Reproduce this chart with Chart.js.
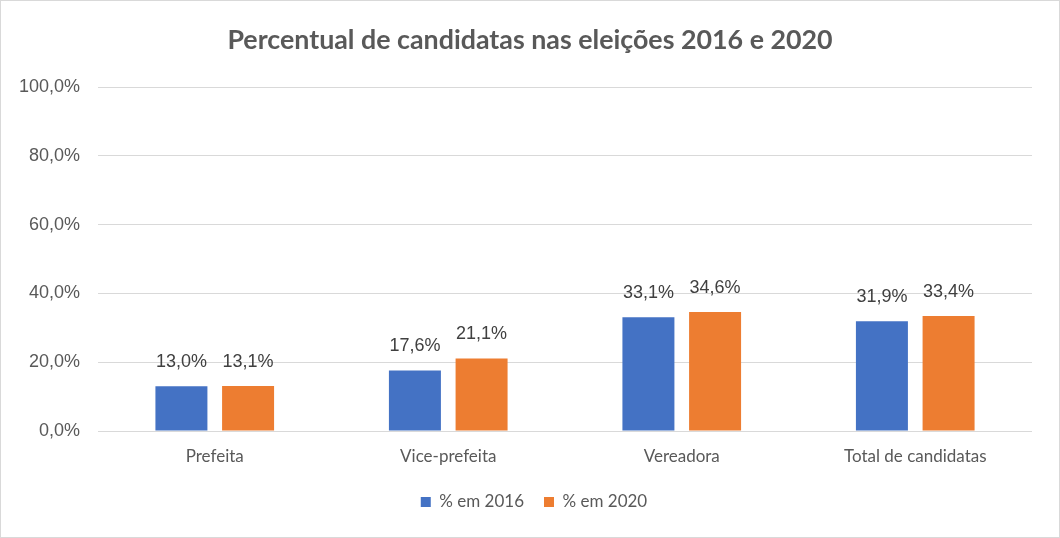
<!DOCTYPE html>
<html>
<head>
<meta charset="utf-8">
<script src="https://cdn.jsdelivr.net/npm/chart.js@4/dist/chart.umd.min.js"></script>
<style>
  html, body { margin: 0; padding: 0; background: #ffffff; }
  #wrap { width: 1060px; height: 538px; }
</style>
</head>
<body>
<div id="wrap"><canvas id="c" width="1060" height="538"></canvas></div>
<script>
const categories = ['Prefeita', 'Vice-prefeita', 'Vereadora', 'Total de candidatas'];
const values2016 = [13.0, 17.6, 33.1, 31.9];
const values2020 = [13.1, 21.1, 34.6, 33.4];
const seriesNames = ['% em 2016', '% em 2020'];
const titleText = 'Percentual de candidatas nas eleições 2016 e 2020';

function fmt(v) { return v.toFixed(1).replace('.', ',') + '%'; }

const borderPlugin = {
  id: 'outerBorder',
  beforeDraw(chart) {
    const ctx = chart.ctx;
    ctx.save();
    ctx.fillStyle = '#ffffff';
    ctx.fillRect(0, 0, chart.width, chart.height);
    ctx.strokeStyle = '#D9D9D9';
    ctx.lineWidth = 1;
    ctx.strokeRect(0.5, 0.5, chart.width - 1, chart.height - 1);
    ctx.restore();
  }
};

const boxShift = {
  id: 'boxShift',
  afterLayout(chart) {
    if (chart.legend) {
      chart.legend.left += 18;
      chart.legend.right += 18;
    }
    if (chart.titleBlock) {
      chart.titleBlock.left += 14;
      chart.titleBlock.right += 14;
    }
  }
};

const labelPlugin = {
  id: 'barLabels',
  afterDatasetsDraw(chart) {
    const ctx = chart.ctx;
    ctx.save();
    ctx.font = '18px "Liberation Sans", Arial, sans-serif';
    ctx.fillStyle = '#404040';
    ctx.textAlign = 'center';
    ctx.textBaseline = 'alphabetic';
    chart.data.datasets.forEach((ds, i) => {
      const meta = chart.getDatasetMeta(i);
      meta.data.forEach((bar, j) => {
        ctx.fillText(fmt(ds.data[j]), bar.x, bar.y - 19);
      });
    });
    ctx.restore();
  }
};

new Chart(document.getElementById('c'), {
  type: 'bar',
  data: {
    labels: categories,
    datasets: [
      { label: seriesNames[0], data: values2016, backgroundColor: '#4472C4', categoryPercentage: 0.571, barPercentage: 0.78 },
      { label: seriesNames[1], data: values2020, backgroundColor: '#ED7D31', categoryPercentage: 0.571, barPercentage: 0.78 }
    ]
  },
  options: {
    responsive: false,
    animation: false,
    layout: { padding: { left: 0, right: 28, top: 0, bottom: 17.5 } },
    plugins: {
      tooltip: { enabled: false },
      title: {
        display: true,
        text: titleText,
        color: '#595959',
        font: { family: 'Lato', size: 26.8, weight: 'bold', lineHeight: 1.2 },
        padding: { top: 23.9, bottom: 31 }
      },
      legend: {
        position: 'bottom',
        labels: {
          boxWidth: 10,
          boxHeight: 10,
          padding: 20,
          color: '#595959',
          font: { family: 'Lato', size: 17 }
        }
      }
    },
    scales: {
      x: {
        grid: { display: false },
        border: { display: false },
        ticks: {
          color: '#595959',
          font: { family: 'Lato', size: 17 },
          padding: 7,
          maxRotation: 0
        },
        afterFit(scale) { scale.height = 42.5; }
      },
      y: {
        min: 0,
        max: 100,
        grid: { color: '#D9D9D9', lineWidth: 1, drawTicks: false },
        border: { display: false },
        ticks: {
          stepSize: 20,
          color: '#595959',
          font: { family: '"Liberation Sans", Arial, sans-serif', size: 18 },
          padding: 18,
          callback: (v) => fmt(v)
        },
        afterFit(scale) { scale.width = 98; }
      }
    }
  },
  plugins: [borderPlugin, boxShift, labelPlugin]
});
</script>
</body>
</html>
